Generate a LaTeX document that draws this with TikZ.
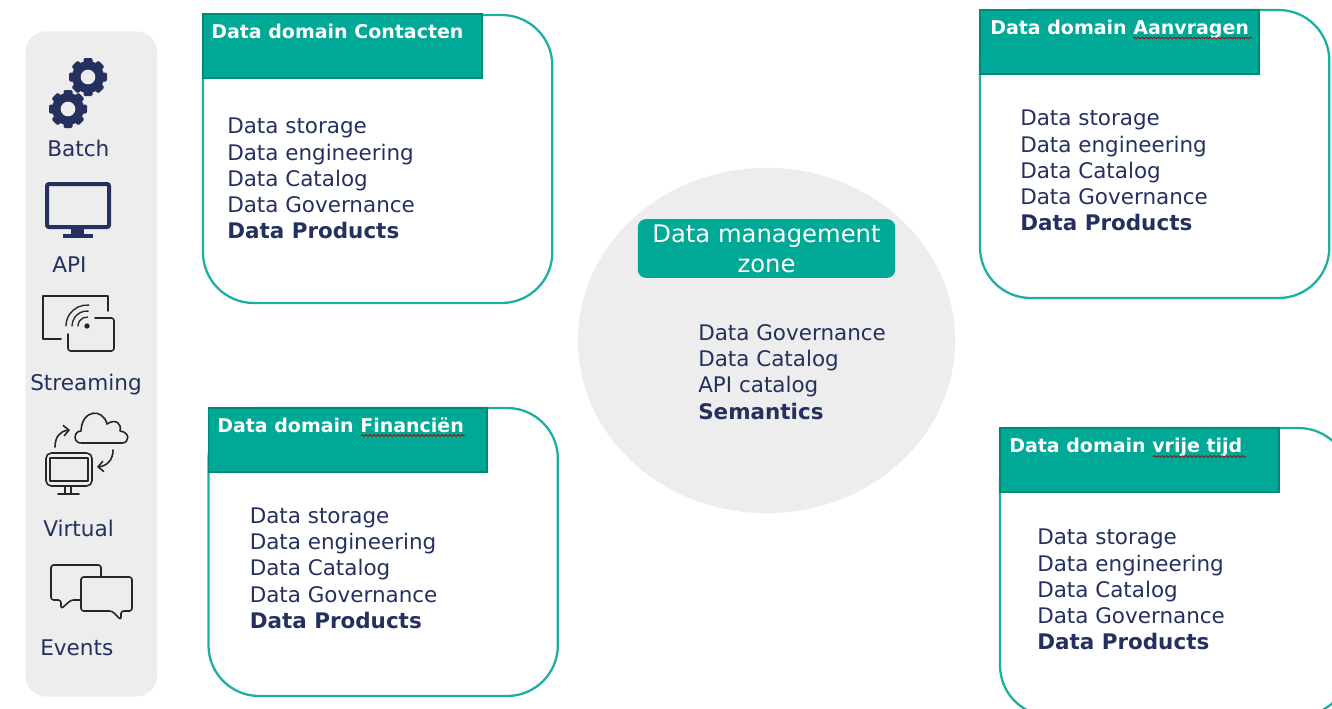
\documentclass[tikz,border=0pt]{standalone}
\usepackage{fontspec}
\setmainfont{DejaVu Sans}
\usetikzlibrary{arrows.meta, shapes.geometric, decorations.pathmorphing}

\definecolor{navytext}{HTML}{24305E}
\definecolor{tealfill}{HTML}{00A896}
\definecolor{tealdark}{HTML}{008878}
\definecolor{tealline}{HTML}{1AB0A0}
\definecolor{panelgray}{HTML}{EDEDED}

\tikzset{
  domainbox/.style={draw=tealline, line width=1.7pt, outer sep=0pt, rounded corners=38pt, minimum width=262pt, minimum height=216pt, anchor=north west},
  domainhead/.style={draw=tealdark, line width=1.3pt, outer sep=0pt, fill=tealfill, minimum width=209pt, minimum height=48pt, anchor=north west},
  headtext/.style={text=white, font=\fontsize{14.25}{16}\selectfont\bfseries, anchor=base west, inner sep=0pt},
  listtext/.style={text=navytext, font=\fontsize{16.1}{19.7}\selectfont, align=left, anchor=north west, inner sep=0pt},
  icontext/.style={text=navytext, font=\fontsize{16.2}{19}\selectfont, anchor=base west, inner sep=0pt},
  spell/.style={draw=red!70!black, line width=0.6pt, decorate, decoration={snake, amplitude=0.6pt, segment length=3pt}},
  iconline/.style={draw=black!85, line width=1.2pt, line join=round, line cap=round},
}
\newcommand{\domainlist}{Data storage\\Data engineering\\Data Catalog\\Data Governance\\\textbf{Data Products}}

\begin{document}
\begin{tikzpicture}[x=0.75pt, y=-0.75pt]
\useasboundingbox (0,0) rectangle (1332,708);
\clip (0,0) rectangle (1332,708);

% left panel
\node[fill=panelgray, rounded corners=16pt, minimum width=99pt, minimum height=499pt, anchor=north west, inner sep=0pt] (panel) at (25,31) {};

% batch
\foreach \cx/\cy in {88/77, 68/109}{
  \fill[navytext] (\cx,\cy) circle (12pt);
  \foreach \a in {0,45,...,315}
    \fill[navytext, rounded corners=1pt, rotate around={\a:(\cx,\cy)}] (\cx-4.5,\cy-19) rectangle (\cx+4.5,\cy);
  \fill[panelgray] (\cx,\cy) circle (5.5pt);
}
\node[icontext] (batch) at (47,156) {Batch};

% api
\draw[navytext, line width=3pt, rounded corners=1.5pt] (47,184) rectangle (109,227);
\fill[navytext] (71,228) rectangle (84,234);
\fill[navytext] (63,234) rectangle (93,238);
\node[icontext] (api) at (52,272) {API};

% streaming
\draw[iconline] (108,311) -- (108,296) -- (43,296) -- (43,339) -- (61,339);
\draw[iconline, rounded corners=2pt] (95,318) -- (114,318) -- (114,351) -- (68,351) -- (68,334);
\fill[black!85] (87,326) circle (2pt);
\foreach \r in {9,15,21}
  \draw[iconline, line width=1pt] (87,326)++(275:\r) arc (275:180:\r);
\node[icontext] (streaming) at (30,390) {Streaming};

% virtual
\draw[iconline, rounded corners=4pt] (46,453) rectangle (92,486);
\draw[iconline] (50,458) rectangle (88,481);
\draw[iconline] (65,486) -- (65,494) (71,486) -- (71,494) (58,494) -- (79,494);
\draw[iconline] (82,443) .. controls (73,444) and (73,431) .. (81,431) .. controls (82,409) and (103,408) .. (107,424) .. controls (116,418) and (122,424) .. (120,431) .. controls (130,432) and (130,443) .. (122,443) -- cycle;
\draw[iconline, -{Straight Barb[length=4pt]}] (55,447) .. controls (55,437) and (60,431) .. (70,430);
\draw[iconline, -{Straight Barb[length=4pt]}] (113,450) .. controls (113,460) and (107,466) .. (97,467);
\node[icontext] (virtual) at (43,536) {Virtual};

% events
\draw[iconline, rounded corners=2pt] (81,600) -- (71,600) -- (61,609) -- (61,600) -- (51,600) -- (51,565) -- (101,565) -- (101,577);
\draw[iconline, rounded corners=2pt] (81,577) -- (132,577) -- (132,611) -- (121,611) -- (121,620) -- (112,611) -- (81,611) -- cycle;
\node[icontext] (events) at (40,655) {Events};

% management zone
\node[fill=panelgray, ellipse, minimum width=283pt, minimum height=259pt, inner sep=0pt] (zone) at (766.5,340.5) {};
\node[fill=tealfill, rounded corners=6pt, minimum width=193pt, minimum height=44pt, inner sep=0pt, text=white, align=center, font=\fontsize{18.2}{22.5}\selectfont] (zonehead) at (766.5,248.5) {Data management\\zone};
\node[listtext] (zonelist) at (698,324) {Data Governance\\Data Catalog\\API catalog\\\textbf{Semantics}};

% data domains
\foreach \id/\bx/\by/\hy/\tx/\lx/\ly/\tail in {
  contacten/203/15/14/211/227/118/Contacten,
  financien/208.5/408/408/217/249.5/507.5/Financiën,
  aanvragen/980/10/10/990/1020/110/Aanvragen,
  vrijetijd/1000/428/428/1009/1037/529/vrije tijd}{
  \node[domainbox] (box\id) at (\bx,\by) {};
  \node[domainhead] (head\id) at (\bx,\hy) {};
  \node[headtext] (title\id) at (\tx,\hy+24) {Data domain \tail};
  \node[listtext] (list\id) at (\lx,\ly) {\domainlist};
}

% spell check marks
\draw[spell] (361,435.5) -- (465,435.5);
\draw[spell] (1133,38) -- (1252,38);
\draw[spell] (1153,456.5) -- (1246,456.5);

\end{tikzpicture}
\end{document}
